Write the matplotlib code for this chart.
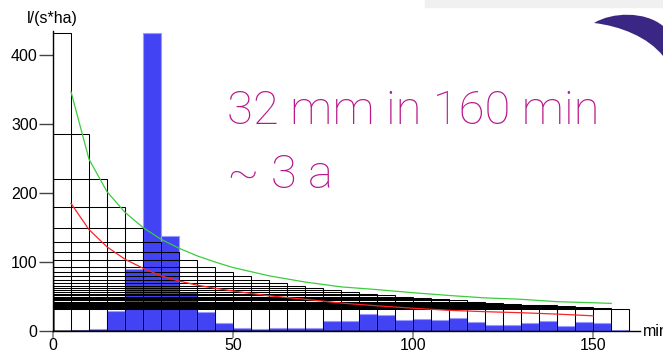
import numpy as np
import matplotlib
matplotlib.use("Agg")
import matplotlib.pyplot as plt
from matplotlib.patches import Rectangle, PathPatch
from matplotlib.path import Path

# rain intensity per 5 min block, l/(s*ha)
bar_width = 5
rain = [0, 1.5, 3, 29, 90, 432, 138, 57, 28, 11, 4, 3, 4, 4, 4, 14.5,
        14.5, 24, 23, 16, 18, 16, 19, 13.5, 9, 9, 11.5, 14, 7, 13.5, 11, 1.5]
bar_x = [i * bar_width for i in range(len(rain))]

# design curves
green_t = [5, 10, 15, 20, 25, 30, 35, 40, 45, 50, 60, 70, 80, 90, 100, 110, 120, 130, 140, 150, 155]
green_r = [347, 249, 202, 172, 150, 133, 120, 109, 100, 92, 80, 71, 64, 60, 55.5, 51.5, 48, 46, 42.5, 41, 40]
red_t = [5, 10, 15, 20, 25, 30, 35, 40, 45, 50, 60, 70, 80, 90, 100, 110, 120, 130, 140, 150]
red_r = [185, 147, 122, 104, 91, 80, 72.5, 66.5, 62, 58, 51, 46, 40.5, 36.5, 33, 30, 28, 26.5, 24.5, 22]

xticks = [0, 50, 100, 150]
yticks = [0, 100, 200, 300, 400]

W, H = 663, 353
fig = plt.figure(figsize=(W / 100, H / 100), dpi=100)
ax = fig.add_axes([53 / W, 1 - 331 / H, (640 - 53) / W, 300 / H])

# blue bars
ax.bar(bar_x, rain, width=bar_width, align="edge", color="#4343f6",
       edgecolor="#9a9aff", linewidth=0.8, zorder=1)

# boxes: mean of the k largest blocks over k*5 min
srt = np.sort(rain)[::-1]
means = np.cumsum(srt) / np.arange(1, len(srt) + 1)
for k, h in enumerate(means, start=1):
    ax.add_patch(Rectangle((0, 0), k * bar_width, h, fill=False,
                           edgecolor="black", linewidth=0.75, zorder=2))

ax.plot(green_t, green_r, color="#3ccc3c", linewidth=0.9, zorder=3)
ax.plot(red_t, red_r, color="#ff2222", linewidth=0.9, zorder=3)

ax.set_xlim(0, 163)
ax.set_ylim(0, 435)
for s in ["top", "right"]:
    ax.spines[s].set_visible(False)
ax.spines["left"].set_linewidth(1)
ax.spines["bottom"].set_linewidth(1)
ax.set_xticks(xticks)
ax.set_yticks(yticks)
ax.tick_params(axis="y", length=10, width=1, color="#444444", labelsize=11.5, pad=1)
ax.tick_params(axis="x", length=5, width=1.2, color="#888888", labelsize=11.5, pad=0)
for lab in ax.get_xticklabels() + ax.get_yticklabels():
    lab.set_family("Liberation Sans")
ax.set_facecolor("none")

fig.text(52.5 / W, 1 - 18 / H, "l/(s*ha)", ha="center", va="center",
         family="Liberation Sans", fontsize=11.5)
fig.text(643 / W, 1 - 332 / H, "min", ha="left", va="center",
         family="Liberation Sans", fontsize=11.5)

# pink annotation
pink = "#b8178a"
fig.text(227 / W, 1 - 124 / H, "32 mm in 160 min", ha="left", va="baseline",
         color=pink, family="Roboto", fontweight="light", fontsize=34)
fig.text(227 / W, 1 - 188 / H, "~ 3 a", ha="left", va="baseline",
         color=pink, family="Roboto", fontweight="light", fontsize=34)

# decoration top right
fig.patches.append(Rectangle((425 / W, 1 - 7 / H), (W - 425) / W, 7 / H,
                             transform=fig.transFigure, color="#f0f0f0", zorder=0))
def fp(x, y):
    return (x / W, 1 - y / H)
verts = [fp(594, 23), fp(612, 12), fp(645, 11), fp(663, 26),
         fp(663, 56), fp(648, 37), fp(620, 26), fp(594, 23), fp(594, 23)]
codes = [Path.MOVETO, Path.CURVE4, Path.CURVE4, Path.CURVE4,
         Path.LINETO, Path.CURVE4, Path.CURVE4, Path.CURVE4, Path.CLOSEPOLY]
fig.patches.append(PathPatch(Path(verts, codes), transform=fig.transFigure,
                             facecolor="#3a2783", edgecolor="none", zorder=1))

fig.savefig("out.png", dpi=100)
